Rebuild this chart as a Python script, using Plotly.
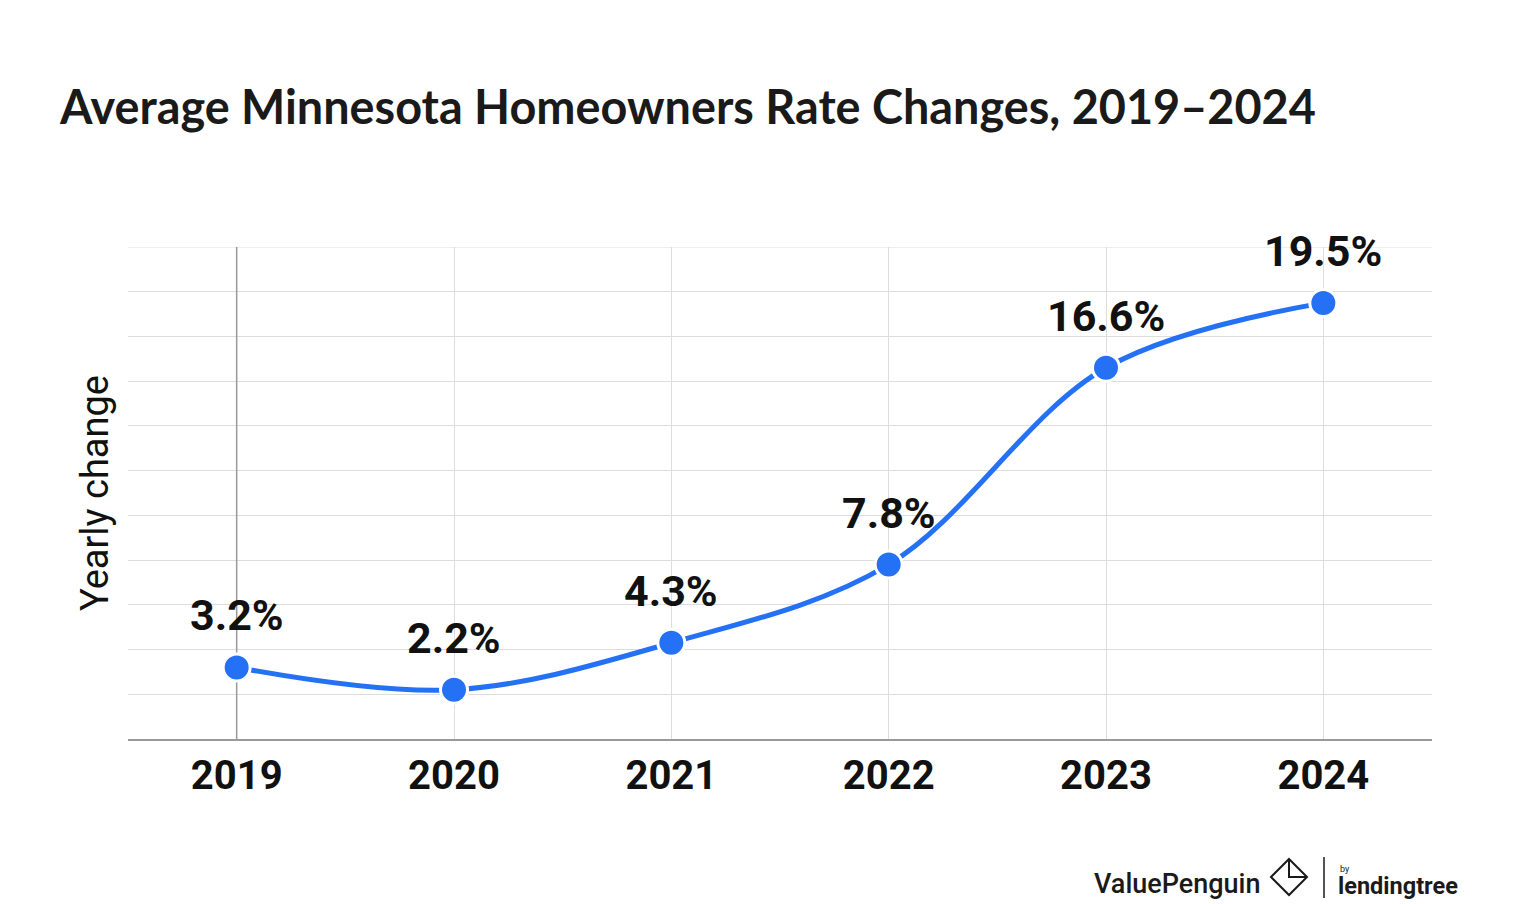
import plotly.graph_objects as go

years = [2019, 2020, 2021, 2022, 2023, 2024]
changes = [3.2, 2.2, 4.3, 7.8, 16.6, 19.5]
labels = ["3.2%", "2.2%", "4.3%", "7.8%", "16.6%", "19.5%"]
tick_text = ["2019", "2020", "2021", "2022", "2023", "2024"]

BLUE = "#2471F5"
GRID = "#dddddd"
OFF = 8  # page offset of the figure
W, H = 1520, 904
PL, PR, PT, PB = 128 - OFF, 1432 - OFF, 247 - OFF, 739 - OFF  # plot box in figure px

fig = go.Figure()
fig.add_trace(go.Scatter(
    x=years, y=changes, mode="lines+markers",
    line=dict(color=BLUE, width=5, shape="spline", smoothing=1.0),
    marker=dict(size=27, color=BLUE, line=dict(color="white", width=3)),
    hoverinfo="skip", showlegend=False,
))

for x, y, t in zip(years, changes, labels):
    fig.add_annotation(x=x, y=y, text=t, showarrow=False, yanchor="middle",
                       yshift=52, font=dict(family="Roboto", size=43, color="#111111",
                                            weight="bold"))

fig.add_shape(type="line", x0=years[0], x1=years[0], y0=0, y1=22, xref="x", yref="y",
              line=dict(color="#999999", width=1.5), layer="between")
fig.add_shape(type="line", x0=0, x1=1, y0=22, y1=22, xref="paper", yref="y",
              line=dict(color=GRID, width=1), layer="between")

fig.update_layout(
    width=W, height=H,
    margin=dict(l=PL, r=W - PR, t=PT, b=H - PB),
    paper_bgcolor="white", plot_bgcolor="white",
    title=dict(text="Average Minnesota Homeowners Rate Changes, 2019–2024",
               x=(60 - OFF) / W, xanchor="left", xref="container",
               y=1 - (108 - OFF) / H, yanchor="middle", yref="container",
               font=dict(family="Lato", size=46.8, color="#1a1a1a", weight="bold")),
    xaxis=dict(range=[2018.5, 2024.5], tickvals=years, ticktext=tick_text,
               showgrid=True, gridcolor=GRID, gridwidth=1,
               showline=True, linecolor="#999999", linewidth=1.5,
               ticks="", zeroline=False,
               tickfont=dict(family="Roboto", size=40, color="#111111", weight="bold"),
               ticklabelstandoff=0),
    yaxis=dict(range=[0, 22], dtick=2, showticklabels=False, showgrid=True,
               gridcolor=GRID, gridwidth=1, zeroline=False, ticks="",
               title=dict(text="Yearly change", standoff=6,
                          font=dict(family="Roboto", size=38, color="#111111"))),
)


def px(x):
    return (x - OFF - PL) / (PR - PL)


def py(y):
    return (PB - (y - OFF)) / (PB - PT)


fig.add_annotation(xref="paper", yref="paper", x=px(1263), y=py(884),
                   text="ValuePenguin", showarrow=False, xanchor="right", yanchor="middle",
                   font=dict(family="Roboto", size=27, color="#1a1a1a", weight=500))
icon = (f"M {px(1271)} {py(877)} L {px(1289)} {py(859)} L {px(1307)} {py(877)} "
        f"L {px(1289)} {py(895)} Z M {px(1289)} {py(859)} L {px(1289)} {py(877)} L {px(1307)} {py(877)}")
fig.add_shape(type="path", xref="paper", yref="paper", path=icon,
              line=dict(color="#1a1a1a", width=2))
fig.add_shape(type="line", xref="paper", yref="paper", x0=px(1324), x1=px(1324),
              y0=py(857), y1=py(898), line=dict(color="#1a1a1a", width=1.5))
fig.add_annotation(xref="paper", yref="paper", x=px(1338), y=py(869), text="by",
                   showarrow=False, xanchor="left", yanchor="middle",
                   font=dict(family="Roboto", size=9, color="#1a1a1a"))
fig.add_annotation(xref="paper", yref="paper", x=px(1336), y=py(886), text="lendingtree",
                   showarrow=False, xanchor="left", yanchor="middle",
                   font=dict(family="Roboto", size=23.5, color="#1a1a1a", weight="bold"))

fig.write_html("out.html")
